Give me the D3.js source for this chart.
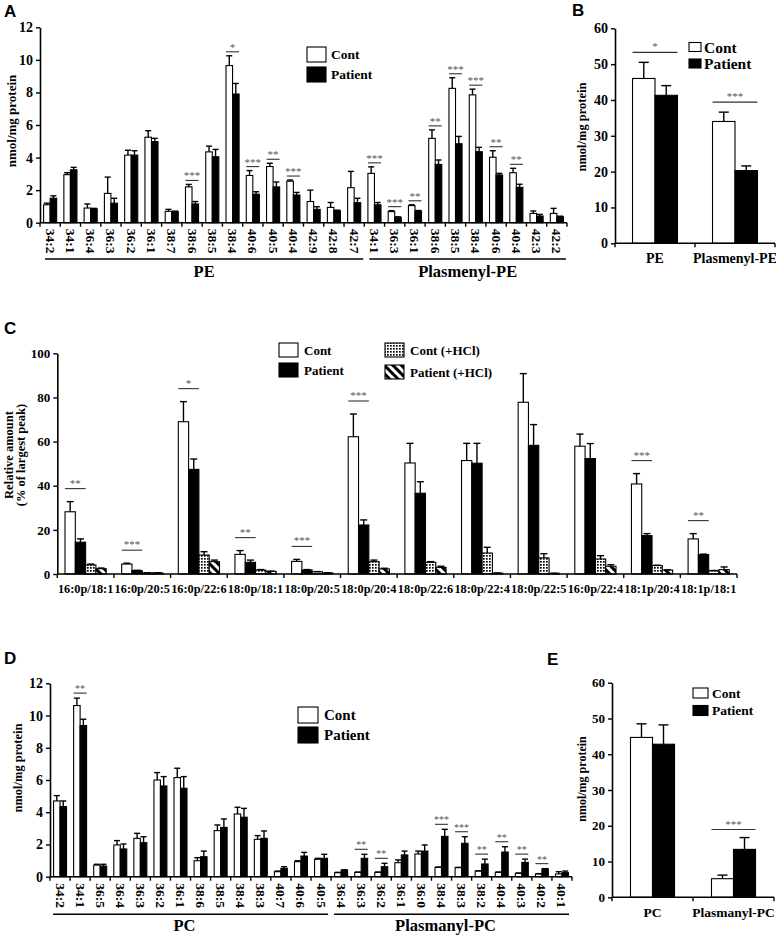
<!DOCTYPE html>
<html><head><meta charset="utf-8">
<script src="https://cdn.jsdelivr.net/npm/d3@7"></script>
<style>
body{margin:0;background:#fff;}
svg text{font-family:"Liberation Serif","Times New Roman",serif;font-weight:bold;fill:#000;}
svg text.plabel{font-family:"Liberation Sans",Arial,sans-serif;}
</style></head><body>
<svg id="fig" width="776" height="935"></svg>
<script>
// ---------- Panel A data ----------
const aLabels = ["34:2","34:1","36:4","36:3","36:2","36:1","38:7","38:6","38:5","38:4","40:6","40:5","40:4","42:9","42:8","42:7",
                 "34:1","36:3","36:1","38:6","38:5","38:4","40:6","40:4","42:3","42:2"];
const aGroupNames = ["PE","Plasmenyl-PE"];
const aGroupSizes = [16,10];
const aCont    = [1.1,2.95,0.9,1.8,4.15,5.25,0.7,2.2,4.35,9.65,2.9,3.45,2.55,1.3,0.94,2.15, 3.03,0.68,1.05,5.18,8.25,7.85,4.02,3.07,0.57,0.57];
const aContErr = [0.1,0.12,0.25,1.0,0.3,0.4,0.12,0.15,0.35,0.6,0.3,0.2,0.07,0.7,0.3,1.0, 0.4,0.06,0.05,0.52,0.65,0.35,0.4,0.27,0.15,0.31];
const aPat     = [1.5,3.25,0.85,1.2,4.15,4.98,0.68,1.15,4.05,7.9,1.75,2.2,1.7,0.82,0.74,1.23, 1.1,0.33,0.72,3.58,4.85,4.36,2.93,2.17,0.41,0.37];
const aPatErr  = [0.15,0.15,0.03,0.3,0.27,0.2,0.03,0.15,0.45,0.65,0.15,0.3,0.16,0.16,0.03,0.27, 0.14,0.03,0.03,0.27,0.45,0.27,0.1,0.19,0.1,0.03];
const aSigIdx  = [7,9,10,11,12,16,17,18,19,20,21,22,23];
const aSigText = ["***","*","***","**","***","***","***","**","**","***","***","**","**"];
const aTicks = [0,2,4,6,8,10,12];

// ---------- Panel B data ----------
const bLabels = ["PE","Plasmenyl-PE"];
const bCont = [46.0,34.0], bContErr = [4.5,2.6];
const bPat  = [41.3,20.3], bPatErr  = [2.7,1.3];
const bSigIdx = [0,1], bSigText = ["*","***"];
const bTicks = [0,10,20,30,40,50,60];

// ---------- Panel C data ----------
const cLabels = ["16:0p/18:1","16:0p/20:5","16:0p/22:6","18:0p/18:1","18:0p/20:5","18:0p/20:4","18:0p/22:6","18:0p/22:4","18:0p/22:5","16:0p/22:4","18:1p/20:4","18:1p/18:1"];
const cCont       = [28.2,4.5,69.0,8.9,5.7,62.2,50.3,51.4,77.8,57.9,40.8,15.9];
const cContErr    = [4.6,0.4,9.1,1.7,0.9,10.3,8.9,7.8,13.0,5.5,4.7,2.4];
const cPat        = [14.4,1.5,47.4,5.3,1.8,22.2,36.6,50.2,58.3,52.3,17.4,8.8];
const cPatErr     = [1.5,0.2,4.7,1.0,0.2,2.3,5.2,9.0,9.4,6.8,0.9,0.2];
const cContHCl    = [4.1,0.5,8.6,1.8,1.0,5.6,5.3,9.5,7.3,6.8,3.8,1.5];
const cContHClErr = [0.4,0.05,1.5,0.2,0.1,0.7,0.3,2.6,1.9,1.5,0.2,0.1];
const cPatHCl     = [2.4,0.5,5.6,1.2,0.5,2.3,3.0,0.4,0.3,3.5,1.8,2.0];
const cPatHClErr  = [0.3,0.05,0.7,0.1,0.05,0.3,0.5,0.05,0.05,0.7,0.1,1.2];
const cSigIdx  = [0,1,2,3,4,5,10,11];
const cSigText = ["**","***","*","**","***","***","***","**"];
const cTicks = [0,20,40,60,80,100];

// ---------- Panel D data ----------
const dLabels = ["34:2","34:1","36:5","36:4","36:3","36:2","36:1","38:6","38:5","38:4","38:3","40:7","40:6","40:5",
                 "36:4","36:3","36:2","36:1","36:0","38:4","38:3","38:2","40:4","40:3","40:2","40:1"];
const dGroupNames = ["PC","Plasmanyl-PC"];
const dGroupSizes = [14,12];
const dCont    = [4.7,10.62,0.72,1.97,2.38,6.0,6.15,0.99,2.86,3.89,2.32,0.31,0.93,1.08, 0.25,0.27,0.27,0.87,1.41,0.58,0.56,0.35,0.27,0.21,0.17,0.17];
const dContErr = [0.33,0.46,0.05,0.27,0.31,0.46,0.58,0.19,0.35,0.42,0.23,0.04,0.06,0.06, 0.02,0.02,0.02,0.17,0.18,0.02,0.02,0.02,0.02,0.02,0.02,0.14];
const dPat     = [4.35,9.38,0.66,1.72,2.11,5.63,5.49,1.24,3.06,3.69,2.38,0.52,1.28,1.14, 0.41,1.14,0.62,1.35,1.59,2.5,2.07,0.79,1.53,0.89,0.48,0.25];
const dPatErr  = [0.35,0.39,0.11,0.31,0.37,0.58,0.72,0.35,0.52,0.55,0.46,0.1,0.23,0.25, 0.02,0.25,0.21,0.24,0.38,0.44,0.41,0.3,0.33,0.2,0.02,0.1];
const dSigIdx  = [1,15,16,19,20,21,22,23,24];
const dSigText = ["**","**","**","***","***","**","**","**","**"];
const dTicks = [0,2,4,6,8,10,12];

// ---------- Panel E data ----------
const eLabels = ["PC","Plasmanyl-PC"];
const eCont = [44.7,5.2], eContErr = [3.8,1.0];
const ePat  = [42.8,13.4], ePatErr  = [5.4,3.3];
const eSigIdx = [1], eSigText = ["***"];
const eTicks = [0,10,20,30,40,50,60];

const seriesNames = ["Cont","Patient","Cont (+HCl)","Patient (+HCl)"];

// ================= drawing =================
const svg = d3.select('#fig');
const defs = svg.append('defs');
const pd = defs.append('pattern').attr('id','dots').attr('patternUnits','userSpaceOnUse').attr('width',3).attr('height',3);
pd.append('rect').attr('width',3).attr('height',3).attr('fill','#fff');
pd.append('rect').attr('width',1.7).attr('height',1.7).attr('fill','#000');
const ph = defs.append('pattern').attr('id','hatch').attr('patternUnits','userSpaceOnUse').attr('width',6).attr('height',6).attr('patternTransform','rotate(-45)');
ph.append('rect').attr('width',6).attr('height',6).attr('fill','#fff');
ph.append('rect').attr('width',3).attr('height',6).attr('fill','#000');
const fills = ['#fff','#000','url(#dots)','url(#hatch)'];

function panel(cfg){
  const n = cfg.labels.length;
  const g = svg.append('g');
  const x = d3.scaleBand().domain(d3.range(n)).range(cfg.xRange).padding(0);
  const xs = d3.scaleBand().domain(d3.range(cfg.series.length)).range([0,x.step()]).paddingInner(0).paddingOuter(cfg.outerPad);
  const y = d3.scaleLinear().domain(cfg.yDomain).range(cfg.yRange);
  const y0 = y(0);
  // bars
  cfg.series.forEach((s,si)=>{
    g.append('g').selectAll('rect').data(s.v).join('rect')
      .attr('x',(d,i)=>x(i)+xs(si)).attr('y',d=>y(d))
      .attr('width',xs.bandwidth()).attr('height',d=>y0-y(d))
      .attr('fill',fills[si]).attr('stroke','#000').attr('stroke-width',1.1);
    const eg = g.append('g').attr('stroke','#000').attr('stroke-width',1.4);
    const cx = i => x(i)+xs(si)+xs.bandwidth()/2;
    eg.selectAll('line.v').data(s.v).join('line').attr('class','v')
      .attr('x1',(d,i)=>cx(i)).attr('x2',(d,i)=>cx(i))
      .attr('y1',d=>y(d)).attr('y2',(d,i)=>y(d+s.e[i]));
    eg.selectAll('line.c').data(s.v).join('line').attr('class','c')
      .attr('x1',(d,i)=>cx(i)-cfg.cap/2).attr('x2',(d,i)=>cx(i)+cfg.cap/2)
      .attr('y1',(d,i)=>y(d+s.e[i])).attr('y2',(d,i)=>y(d+s.e[i]));
  });
  // significance
  const sg = g.append('g');
  cfg.sigIdx.forEach((idx,k)=>{
    const top = d3.max([0,1].map(si=>cfg.series[si].v[idx]+cfg.series[si].e[idx]));
    const ly = y(top)-cfg.sigOff;
    const x1 = x(idx)+xs(0), x2 = x(idx)+xs(1)+xs.bandwidth();
    sg.append('line').attr('x1',x1).attr('x2',x2).attr('y1',ly).attr('y2',ly).attr('stroke','#333').attr('stroke-width',1.1);
    sg.append('text').attr('x',(x1+x2)/2).attr('y',ly+cfg.starDy).attr('text-anchor','middle')
      .style('font-size',cfg.starSize+'px').style('fill','#555').style('font-weight','normal').text(cfg.sigText[k]);
  });
  // y axis
  const ya = g.append('g').attr('transform',`translate(${cfg.xRange[0]},0)`)
    .call(d3.axisLeft(y).tickValues(cfg.ticks).tickSize(4).tickPadding(3).tickSizeOuter(0));
  ya.selectAll('text').style('font-size',cfg.tickFont+'px');
  ya.select('.domain').attr('stroke-width',1.6);
  ya.selectAll('.tick line').attr('stroke-width',1.4);
  // x axis
  const bounds = d3.range(n+1).map(i=> i<n ? x(i) : x(n-1)+x.step());
  g.append('line').attr('x1',cfg.xRange[0]).attr('x2',cfg.xRange[1]).attr('y1',y0).attr('y2',y0).attr('stroke','#000').attr('stroke-width',1.6);
  g.append('g').selectAll('line').data(bounds).join('line')
    .attr('x1',d=>d).attr('x2',d=>d).attr('y1',y0).attr('y2',y0+4).attr('stroke','#000').attr('stroke-width',1.4);
  // category labels
  const lg = g.append('g');
  if(cfg.rotate){
    lg.selectAll('text').data(cfg.labels).join('text')
      .attr('transform',(d,i)=>`translate(${x(i)+x.step()/2},${y0+cfg.labelDy}) rotate(90)`)
      .attr('dominant-baseline','central').attr('text-anchor','start')
      .style('font-size',cfg.labelFont+'px').text(d=>d);
  } else {
    lg.selectAll('text').data(cfg.labels).join('text')
      .attr('x',(d,i)=>x(i)+x.step()/2).attr('y',y0+cfg.labelDy).attr('text-anchor','middle')
      .style('font-size',cfg.labelFont+'px').text(d=>d);
  }
  // group lines
  if(cfg.groupNames){
    let start=0;
    cfg.groupNames.forEach((nm,gi)=>{
      const end = start+cfg.groupSizes[gi];
      const gx1 = bounds[start]+cfg.gPad[0], gx2 = bounds[end]+cfg.gPad[1];
      g.append('line').attr('x1',gx1).attr('x2',gx2).attr('y1',cfg.groupLineY).attr('y2',cfg.groupLineY).attr('stroke','#000').attr('stroke-width',1.6);
      g.append('text').attr('x',(gx1+gx2)/2+cfg.gLabelDx).attr('y',cfg.groupLabelY).attr('text-anchor','middle')
        .style('font-size',cfg.groupFont+'px').text(nm);
      start=end;
    });
  }
  // y title
  const yt = g.append('text').attr('transform',`translate(${cfg.yTitle.x},${cfg.yTitle.y}) rotate(-90)`)
    .attr('text-anchor','middle').style('font-size',cfg.yTitle.size+'px');
  cfg.yTitle.lines.forEach((t,i)=>{
    yt.append('tspan').attr('x',0).attr('dy', i===0 ? (-(cfg.yTitle.lines.length-1)*cfg.yTitle.lh/2 + 0.35*cfg.yTitle.size) : cfg.yTitle.lh).text(t);
  });
  // legend
  cfg.legend.items.forEach((it,k)=>{
    const L = cfg.legend;
    svg.append('rect').attr('x',it.x).attr('y',it.y).attr('width',L.w).attr('height',L.h)
      .attr('fill',fills[it.s]).attr('stroke','#000').attr('stroke-width',1.1);
    svg.append('text').attr('x',it.x+L.w+L.gap).attr('y',it.y+L.h/2).attr('dominant-baseline','central')
      .style('font-size',L.size+'px').text(seriesNames[it.s]);
  });
  // panel letter
  svg.append('text').attr('class','plabel').attr('x',cfg.letter.x).attr('y',cfg.letter.y)
    .style('font-size','17px').text(cfg.letter.t);
}

// Panel A
panel({labels:aLabels, series:[{v:aCont,e:aContErr},{v:aPat,e:aPatErr}],
  xRange:[40,567], outerPad:0.55, yDomain:[0,12], yRange:[222.7,27.3], ticks:aTicks, tickFont:14,
  cap:6, sigIdx:aSigIdx, sigText:aSigText, sigOff:4, starDy:-1, starSize:11,
  rotate:true, labelDy:6, labelFont:13.5,
  groupNames:aGroupNames, groupSizes:aGroupSizes, gPad:[5,-1], gLabelDx:0, groupLineY:259, groupLabelY:277, groupFont:16.5,
  yTitle:{x:11,y:121,size:13,lh:12,lines:["nmol/mg protein"]},
  legend:{w:19,h:15,gap:5,size:13.5,items:[{s:0,x:307,y:47},{s:1,x:307,y:67}]},
  letter:{t:"A",x:4,y:17}});

// Panel B
panel({labels:bLabels, series:[{v:bCont,e:bContErr},{v:bPat,e:bPatErr}],
  xRange:[615,775], outerPad:0.78, yDomain:[0,60], yRange:[243.3,28.3], ticks:bTicks, tickFont:14,
  cap:10, sigIdx:bSigIdx, sigText:bSigText, sigOff:10, starDy:-2, starSize:11,
  rotate:false, labelDy:20, labelFont:14,
  yTitle:{x:582,y:127,size:12.5,lh:12,lines:["nmol/mg protein"]},
  legend:{w:12,h:9,gap:3,size:15.5,items:[{s:0,x:689,y:42.5},{s:1,x:689,y:59}]},
  letter:{t:"B",x:572,y:16}});

// Panel C
panel({labels:cLabels, series:[{v:cCont,e:cContErr},{v:cPat,e:cPatErr},{v:cContHCl,e:cContHClErr},{v:cPatHCl,e:cPatHClErr}],
  xRange:[57.3,737], outerPad:0.75, yDomain:[0,100], yRange:[574,353.3], ticks:cTicks, tickFont:13,
  cap:7, sigIdx:cSigIdx, sigText:cSigText, sigOff:13, starDy:-2, starSize:11,
  rotate:false, labelDy:19, labelFont:12.3,
  yTitle:{x:15,y:455,size:12.5,lh:12,lines:["Relative amount","(% of largest peak)"]},
  legend:{w:19,h:14,gap:6,size:13,items:[{s:0,x:279,y:343},{s:1,x:279,y:363},{s:2,x:385,y:343},{s:3,x:385,y:365}]},
  letter:{t:"C",x:4,y:334}});

// Panel D
panel({labels:dLabels, series:[{v:dCont,e:dContErr},{v:dPat,e:dPatErr}],
  xRange:[50,572], outerPad:0.55, yDomain:[0,12], yRange:[876.7,683.3], ticks:dTicks, tickFont:14,
  cap:6, sigIdx:dSigIdx, sigText:dSigText, sigOff:5, starDy:-1, starSize:10,
  rotate:true, labelDy:6.5, labelFont:13.5,
  groupNames:dGroupNames, groupSizes:dGroupSizes, gPad:[3,-3], gLabelDx:-6, groupLineY:914.3, groupLabelY:931, groupFont:16.5,
  yTitle:{x:18,y:768,size:12.5,lh:12,lines:["nmol/mg protein"]},
  legend:{w:20,h:16,gap:6,size:15,items:[{s:0,x:298,y:707},{s:1,x:298,y:727}]},
  letter:{t:"D",x:4,y:664}});

// Panel E
panel({labels:eLabels, series:[{v:eCont,e:eContErr},{v:ePat,e:ePatErr}],
  xRange:[612,774], outerPad:0.84, yDomain:[0,60], yRange:[897.3,682.7], ticks:eTicks, tickFont:13,
  cap:10, sigIdx:eSigIdx, sigText:eSigText, sigOff:8, starDy:-2, starSize:11,
  rotate:false, labelDy:20, labelFont:13.5,
  yTitle:{x:582,y:779,size:12,lh:12,lines:["nmol/mg protein"]},
  legend:{w:15,h:10,gap:4,size:13.5,items:[{s:0,x:693,y:688},{s:1,x:693,y:705.5}]},
  letter:{t:"E",x:547,y:665}});
</script>
</body></html>
